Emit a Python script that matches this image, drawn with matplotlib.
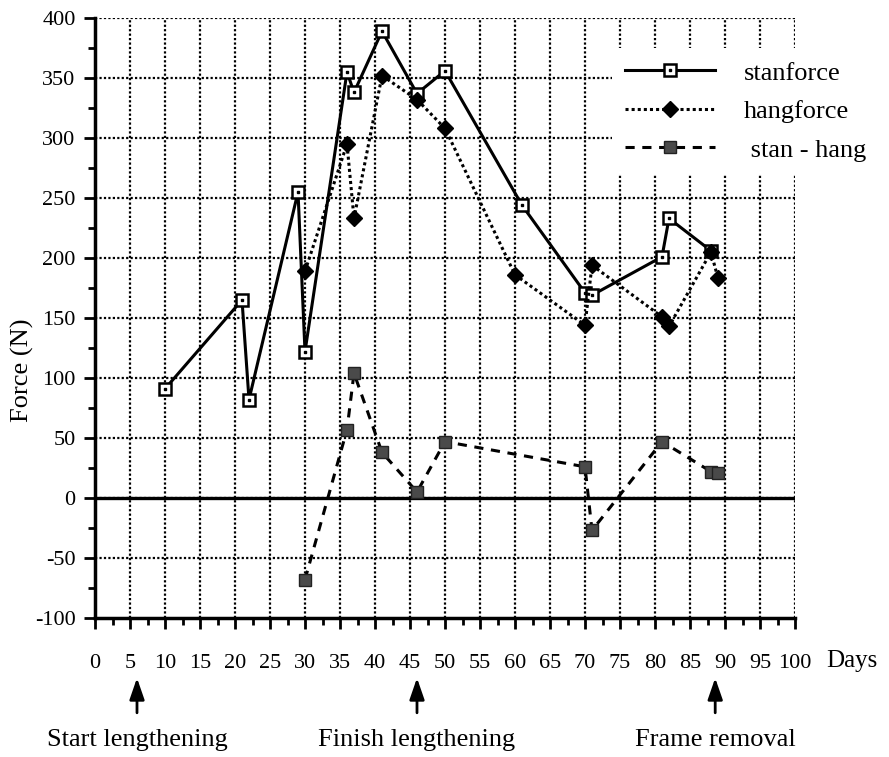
import numpy as np
import matplotlib
matplotlib.use("Agg")
import matplotlib.pyplot as plt
from matplotlib.ticker import MultipleLocator

plt.rcParams['font.family'] = ['Liberation Serif', 'DejaVu Serif']
plt.rcParams['axes.unicode_minus'] = False

# valores
stan_days = [10, 21, 22, 29, 30, 36, 37, 41, 46, 50, 61, 70, 71, 81, 82, 88]
stan_force = [91, 165, 82, 255, 122, 355, 338, 389, 337, 356, 244, 171, 169, 201, 233, 206]

hang_days = [30, 36, 37, 41, 46, 50, 60, 70, 71, 81, 82, 88, 89]
hang_force = [189, 295, 233, 352, 332, 308, 186, 144, 194, 151, 143, 205, 183]

diff_days = [30, 36, 37, 41, 46, 50, 70, 71, 81, 88, 89]
diff_force = [-68, 57, 104, 38, 5, 47, 26, -27, 47, 22, 21]

series_labels = ["stanforce", "hangforce", " stan - hang"]
event_days = [6, 46, 88.6]
event_labels = ["Start lengthening", "Finish lengthening", "Frame removal"]

fig = plt.figure(figsize=(8.89, 7.57), dpi=100)
ax = fig.add_axes([95/889, 1 - 618/757, 700/889, 600/757])

ax.set_xlim(0, 100)
ax.set_ylim(-100, 400)

# rejilla punteada
for gx in np.arange(5, 101, 5):
    ax.axvline(gx, color="black", lw=1.6, ls=(0, (1, 1)), zorder=1)
for gy in np.arange(-50, 401, 50):
    ax.axhline(gy, color="black", lw=1.6, ls=(0, (1, 1)), zorder=1)
ax.axhline(0, color="black", lw=2.4, zorder=2)

l1, = ax.plot(stan_days, stan_force, color="black", lw=2.2, marker="s", ms=8.5,
              mfc="white", mec="black", mew=1.8, zorder=4)
d1, = ax.plot(stan_days, stan_force, ls="none", marker="s", ms=2,
              mfc="black", mec="black", zorder=5)
l2, = ax.plot(hang_days, hang_force, color="black", lw=2.2, ls=(0, (1, 1)),
              marker="D", ms=8, mfc="black", mec="black", zorder=4)
l3, = ax.plot(diff_days, diff_force, color="black", lw=2.2, ls=(0, (3, 2.5)),
              marker="s", ms=8.5, mfc="#4a4a4a", mec="#222222", mew=1, zorder=4)

for s in ["top", "right"]:
    ax.spines[s].set_visible(False)
for s in ["left", "bottom"]:
    ax.spines[s].set_linewidth(2.5)

ax.xaxis.set_major_locator(MultipleLocator(5))
ax.xaxis.set_minor_locator(MultipleLocator(2.5))
ax.yaxis.set_major_locator(MultipleLocator(50))
ax.yaxis.set_minor_locator(MultipleLocator(25))
ax.tick_params(which="major", direction="out", length=8, width=2, labelsize=16)
ax.tick_params(which="minor", direction="out", length=5, width=2)
ax.tick_params(axis="x", pad=18)
ax.tick_params(axis="y", pad=6)

ax.set_ylabel("Force (N)", fontsize=19)
ax.yaxis.label.set_verticalalignment("center")
ax.yaxis.set_label_coords(-0.104, 0.413)
ax.text(1.081, -0.072, "Days", transform=ax.transAxes, fontsize=18,
        ha="center", va="center")

leg = ax.legend([(l1, d1), l2, l3], series_labels, loc="upper left",
                bbox_to_anchor=(612/889, 1 - 48/757), bbox_transform=fig.transFigure,
                frameon=True, facecolor="white", edgecolor="none", framealpha=1,
                fontsize=19, handlelength=3.4, handletextpad=1.1, labelspacing=0.57,
                borderpad=0.5, borderaxespad=0)
leg.set_zorder(10)

for xd, lab in zip(event_days, event_labels):
    ax.annotate("", xy=(xd, -0.100), xytext=(xd, -0.158),
                xycoords=("data", "axes fraction"), textcoords=("data", "axes fraction"),
                arrowprops=dict(arrowstyle="-|>,head_length=1.3,head_width=0.45",
                                lw=2, color="black", shrinkA=0, shrinkB=0),
                annotation_clip=False)
    ax.annotate(lab, xy=(xd, -0.203), xycoords=("data", "axes fraction"),
                ha="center", va="center", fontsize=19, annotation_clip=False)

fig.savefig("out.png", dpi=100)
